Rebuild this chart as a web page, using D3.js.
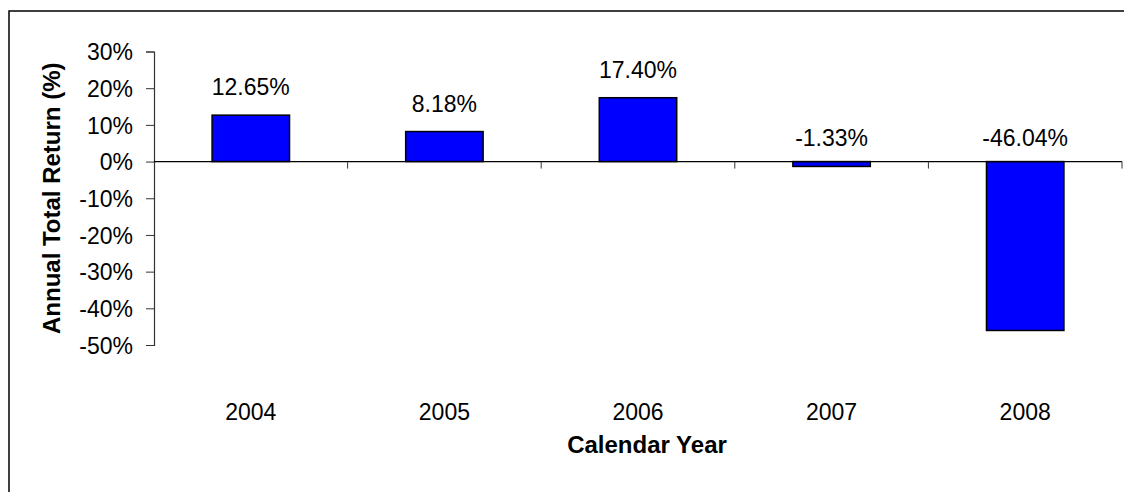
<!DOCTYPE html>
<html>
<head>
<meta charset="utf-8">
<script src="https://cdn.jsdelivr.net/npm/d3@7"></script>
<style>
  body { margin: 0; background: #fff; }
  text { font-family: Arial, "Liberation Sans", sans-serif; fill: #000; }
</style>
</head>
<body>
<svg width="1124" height="492"></svg>
<script>
var years = ["2004", "2005", "2006", "2007", "2008"];
var returns = [12.65, 8.18, 17.40, -1.33, -46.04];
var yTicks = [30, 20, 10, 0, -10, -20, -30, -40, -50];

var svg = d3.select("svg"),
    plotLeft = 154, plotRight = 1122, plotTop = 51.5, plotBottom = 345;

// outer frame (runs off the right and bottom edge)
svg.append("rect")
    .attr("x", 9).attr("y", 11)
    .attr("width", 1200).attr("height", 600)
    .attr("fill", "none").attr("stroke", "#000").attr("stroke-width", 1.5);

var x = d3.scaleBand().domain(years).range([plotLeft, plotRight])
    .paddingInner(0.6).paddingOuter(0.3);
var y = d3.scaleLinear().domain([-50, 30]).range([plotBottom, plotTop]);
var step = x.step();

// y axis
var yAxis = svg.append("g")
    .attr("transform", "translate(" + plotLeft + ",0)")
    .call(d3.axisLeft(y).tickValues(yTicks).tickSize(8).tickPadding(13)
        .tickFormat(function(d) { return d + "%"; }));
yAxis.select(".domain").attr("stroke", "#333").attr("stroke-width", 1.2);
yAxis.selectAll(".tick line").attr("stroke", "#333");
yAxis.selectAll("text").attr("font-size", 23).attr("dy", "0.36em")
    .style("font-family", "Arial, 'Liberation Sans', sans-serif");

// bars
svg.selectAll(".bar")
    .data(returns)
    .enter().append("rect")
    .attr("class", "bar")
    .attr("x", function(d, i) { return x(years[i]); })
    .attr("width", x.bandwidth())
    .attr("y", function(d) { return y(Math.max(0, d)); })
    .attr("height", function(d) { return Math.abs(y(d) - y(0)); })
    .attr("fill", "#0000ff")
    .attr("stroke", "#000")
    .attr("stroke-width", 1.5);

// x axis line at zero with category boundary ticks
svg.append("line")
    .attr("x1", plotLeft).attr("x2", plotRight)
    .attr("y1", y(0)).attr("y2", y(0))
    .attr("stroke", "#000").attr("stroke-width", 1.2);

svg.selectAll(".xtick")
    .data(years)
    .enter().append("line")
    .attr("x1", function(d, i) { return plotLeft + step * (i + 1); })
    .attr("x2", function(d, i) { return plotLeft + step * (i + 1); })
    .attr("y1", y(0)).attr("y2", y(0) + 7)
    .attr("stroke", "#333");

// category labels (low position)
svg.selectAll(".xlabel")
    .data(years)
    .enter().append("text")
    .attr("x", function(d) { return x(d) + x.bandwidth() / 2; })
    .attr("y", 420)
    .attr("text-anchor", "middle")
    .attr("font-size", 23)
    .text(function(d) { return d; });

// value labels
svg.selectAll(".vlabel")
    .data(returns)
    .enter().append("text")
    .attr("x", function(d, i) { return x(years[i]) + x.bandwidth() / 2; })
    .attr("y", function(d) { return d >= 0 ? y(d) - 20 : y(0) - 16; })
    .attr("text-anchor", "middle")
    .attr("font-size", 23)
    .text(function(d) { return d.toFixed(2) + "%"; });

// axis titles
svg.append("text")
    .attr("x", 647).attr("y", 453)
    .attr("text-anchor", "middle")
    .attr("font-size", 24).attr("font-weight", "bold")
    .text("Calendar Year");

svg.append("text")
    .attr("transform", "translate(60," + (plotTop + plotBottom) / 2 + ") rotate(-90)")
    .attr("text-anchor", "middle")
    .attr("font-size", 24).attr("font-weight", "bold")
    .text("Annual Total Return (%)");
</script>
</body>
</html>
